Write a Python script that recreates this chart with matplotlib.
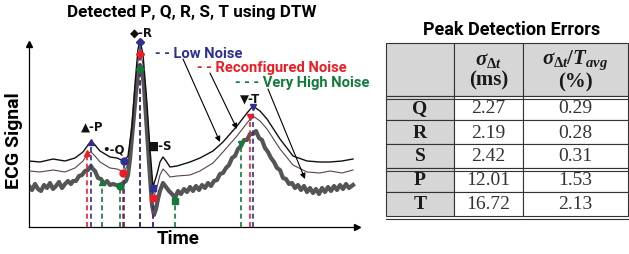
import matplotlib
matplotlib.use("Agg")
import matplotlib.pyplot as plt

plt.rcParams['mathtext.fontset'] = 'custom'
plt.rcParams['mathtext.rm'] = 'Liberation Serif:bold'
plt.rcParams['mathtext.it'] = 'Liberation Serif:italic:bold'
plt.rcParams['mathtext.bf'] = 'Liberation Serif:bold'

# ---------------- data ----------------
# time samples (arbitrary units) for low-noise / reconfigured traces
t_lo = [0, 11, 24, 36, 46, 54, 59, 62, 66, 71, 76, 81, 88, 95, 99, 103, 106, 109, 111, 114,
        118, 121, 124, 128, 131, 134, 137, 141, 148, 161, 171, 184, 194, 208, 218, 224, 231,
        238, 251, 264, 278, 291, 301, 313, 324]
ecg_low = [66, 65, 68, 66, 69, 75, 82, 86, 82, 76, 73, 70, 69, 66, 71, 101, 143, 178, 186, 173,
           123, 78, 40, 53, 65, 70, 66, 60, 61, 65, 69, 76, 85, 101, 114, 121, 116, 108, 88, 71,
           66, 65, 65, 66, 68]
ecg_reconf = [56, 55, 57, 55, 59, 66, 74, 75, 71, 65, 62, 59, 58, 55, 63, 93, 133, 166, 175, 163,
              113, 68, 28, 40, 52, 58, 55, 50, 51, 52, 56, 64, 75, 91, 104, 111, 106, 98, 78, 62,
              55, 54, 56, 54, 57]
# very high noise trace
t_hi = [0, 3, 6, 9, 12, 15, 18, 21, 24, 27, 30, 33, 36, 39, 42,
        44, 47, 50, 53, 56, 59, 62, 63, 66, 69, 72, 75, 78, 81, 84, 87, 91, 94, 97, 99,
        101, 103, 105, 107, 109, 111, 113, 115, 117, 119, 121, 123, 125, 127, 129, 131, 134, 137, 140, 143,
        146, 149, 152, 155, 158, 161, 164, 167, 170, 173, 176, 179, 182, 185, 188, 191, 194, 197, 200, 203,
        206, 209, 212, 215, 218, 221, 224, 227, 230, 233, 236, 239, 242, 245, 248, 251, 254, 257, 260, 263,
        266, 269, 272, 275, 278, 281, 284, 287, 290, 293, 296, 299, 302, 305, 308, 311, 314, 317, 320, 324]
ecg_high = [41, 37, 43, 38, 36, 42, 39, 44, 38, 41, 45, 39, 43, 46, 43,
            46, 46, 51, 52, 56, 57, 61, 59, 56, 49, 48, 43, 46, 42, 43, 42, 41, 44, 46, 52,
            68, 90, 112, 135, 152, 162, 158, 140, 110, 80, 50, 22, 12, 18, 28, 36, 44, 40, 36, 33,
            29, 36, 33, 38, 35, 40, 36, 41, 37, 42, 39, 44, 41, 46, 47, 53, 54, 59, 62, 69,
            71, 78, 81, 87, 87, 93, 93, 96, 89, 87, 79, 75, 69, 65, 59, 57, 49, 48, 43, 44,
            39, 42, 37, 41, 35, 39, 34, 38, 33, 39, 35, 40, 36, 41, 37, 42, 38, 43, 39, 42]

waves = ['P', 'Q', 'R', 'S', 'T']
wave_symbols = ['\u25B2', '\u2022', '\u25C6', '\u25A0', '\u25BC']
low_peak_t = [62, 95, 111, 124, 224]
low_peak_a = [85, 66, 185, 39, 120]
rec_peak_t = [58, 94, 111, 124, 221]
rec_peak_a = [74, 54, 173, 29, 110]
high_peak_t = [73, 91, 111, 146, 212]
high_peak_a = [45, 41, 158, 26, 83]

table_rows = ['Q', 'R', 'S', 'P', 'T']
sigma_ms = ['2.27', '2.19', '2.42', '12.01', '16.72']
sigma_pct = ['0.29', '0.28', '0.31', '1.53', '2.13']

# ---------------- figure ----------------
W, H = 629, 255
fig = plt.figure(figsize=(W / 100, H / 100), dpi=100)
SANS = ['Roboto', 'DejaVu Sans']
WT = 'bold'

BLUE = '#2e3192'
RED = '#ed1c24'
GREEN = '#127a3a'

ax = fig.add_axes([29 / W, 1 - 228 / H, (357 - 29) / W, (228 - 45) / H])
ax.set_xlim(0, 328)
ax.set_ylim(0, 183)
for s in ['top', 'right']:
    ax.spines[s].set_visible(False)
for s in ['left', 'bottom']:
    ax.spines[s].set_color('black')
    ax.spines[s].set_linewidth(0.9)
ax.set_xticks([])
ax.set_yticks([])
ax.patch.set_alpha(0)
ax.plot(1, 0, '>', color='black', ms=5, transform=ax.transAxes, clip_on=False)
ax.plot(0, 1, '^', color='black', ms=5, transform=ax.transAxes, clip_on=False)

ax.plot(t_hi, ecg_high, color='#555555', lw=3.0, solid_joinstyle='round', zorder=2)
ax.plot(t_lo, ecg_reconf, color='#5a4444', lw=0.8, zorder=3)
ax.plot(t_lo, ecg_low, color='#111111', lw=1.0, zorder=4)

mk = ['^', 'o', 'D', 's', 'v']
for ts, As, col in [(high_peak_t, high_peak_a, GREEN), (rec_peak_t, rec_peak_a, RED),
                    (low_peak_t, low_peak_a, BLUE)]:
    ax.vlines(ts, 0, As, colors=col, linestyles=(0, (3, 2)), lw=1.2, zorder=5)
    for t, a, m in zip(ts, As, mk):
        ax.plot(t, a, marker=m, color=col, ms=5 if m != 'D' else 4.2, zorder=6, clip_on=False)

label_pos = [(63, 101), (84, 78), (112, 195), (131, 82), (221, 129)]
for w, sym, (x, y) in zip(waves, wave_symbols, label_pos):
    ax.text(x, y, sym + '-' + w, ha='center', va='center', fontsize=8.5, fontweight=WT,
            family=['DejaVu Sans'], color='#111111', clip_on=False)

LFS = 10.6
ax.text(126, 174, '- - Low Noise', color=BLUE, fontsize=LFS, fontweight=WT, family=SANS,
        ha='left', va='center', clip_on=False)
ax.text(168, 160, '- - Reconfigured Noise', color=RED, fontsize=LFS, fontweight=WT, family=SANS,
        ha='left', va='center', clip_on=False)
ax.text(206, 145, '- - - Very High Noise', color=GREEN, fontsize=LFS, fontweight=WT, family=SANS,
        ha='left', va='center', clip_on=False)
ap = dict(arrowstyle='-|>', color='black', lw=0.8, mutation_scale=8, shrinkA=0, shrinkB=0)
ax.annotate('', xy=(191, 85), xytext=(154, 168), arrowprops=ap)
ax.annotate('', xy=(208, 98), xytext=(181, 154), arrowprops=ap)
ax.annotate('', xy=(276, 48), xytext=(239, 138), arrowprops=ap)

fig.text(192 / W, 1 - 13 / H, 'Detected P, Q, R, S, T using DTW', ha='center', va='center',
         fontsize=12.3, fontweight=WT, family=SANS)
fig.text(14 / W, 1 - 141 / H, 'ECG Signal', rotation=90, ha='center', va='center',
         fontsize=14, fontweight=WT, family=SANS)
fig.text(178 / W, 1 - 239 / H, 'Time', ha='center', va='center',
         fontsize=13.5, fontweight=WT, family=SANS)

# ---------------- table ----------------
fig.text(512 / W, 1 - 30 / H, 'Peak Detection Errors', ha='center', va='center',
         fontsize=13, fontweight=WT, family=SANS)
tax = fig.add_axes([386 / W, 1 - 217 / H, (628 - 386) / W, (217 - 44) / H])
tax.axis('off')
header = ['', r'$\sigma_{\Delta t}$' + '\n(ms)', r'$\sigma_{\Delta t}/T_{avg}$' + '\n(%)']
cells = [header] + [[r, a, b] for r, a, b in zip(table_rows, sigma_ms, sigma_pct)]
cw = [68, 69, 105]
tab = tax.table(cellText=cells, colWidths=[c / sum(cw) for c in cw], cellLoc='center',
                bbox=[0, 0, 1, 1])
tab.auto_set_font_size(False)
GRAY = '#d6d6d6'
for (r, c), cell in tab.get_celld().items():
    cell.set_height(53 if r == 0 else 24)
    cell.set_edgecolor('#333333')
    cell.set_linewidth(0.8)
    txt = cell.get_text()
    txt.set_family('Liberation Serif')
    txt.set_fontsize(14)
    txt.set_color('#1a1a1a')
    if r == 0 or c == 0:
        cell.set_facecolor(GRAY)
        txt.set_fontweight('bold')
    else:
        cell.set_facecolor('white')
        txt.set_color('#333333')
    if r == 0:
        txt.set_fontsize(15)
        txt.set_linespacing(1.05)

tot = 53 + 24 * 5
for yb in [1 - 53 / tot, 2 * 24 / tot, 0]:
    tax.plot([0, 1], [yb - 2.6 / tot] * 2, color='#333333', lw=0.8, transform=tax.transAxes,
             clip_on=False)

fig.savefig('out.png', dpi=100)
